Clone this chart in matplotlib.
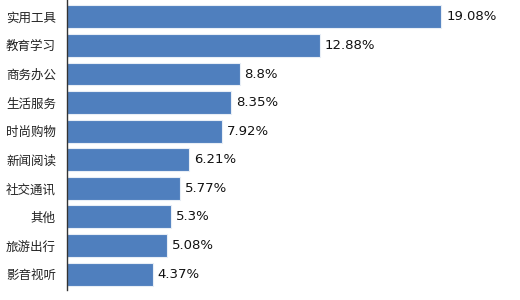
import matplotlib
matplotlib.use("Agg")
import matplotlib.pyplot as plt

plt.rcParams['font.family'] = ['Noto Sans CJK SC', 'DejaVu Sans']

categories = ["实用工具", "教育学习", "商务办公", "生活服务", "时尚购物",
              "新闻阅读", "社交通讯", "其他", "旅游出行", "影音视听"]
values = [19.08, 12.88, 8.8, 8.35, 7.92, 6.21, 5.77, 5.3, 5.08, 4.37]
labels = ["19.08%", "12.88%", "8.8%", "8.35%", "7.92%",
          "6.21%", "5.77%", "5.3%", "5.08%", "4.37%"]

fig = plt.figure(figsize=(5.2, 3.0), dpi=100)
ax = fig.add_axes([0.129, 0.033, 0.871, 0.967])

ypos = list(range(len(categories)))
ax.barh(ypos, values, height=0.8, color='#4f7fbe', edgecolor='#e8eef6', linewidth=0.8)

for y, v, t in zip(ypos, values, labels):
    ax.text(v + 0.25, y, t, va='center', ha='left', fontsize=9.5,
            family='DejaVu Sans', color='#111111')

ax.set_yticks(ypos)
ax.set_yticklabels(categories, fontsize=9, color='#222222')
ax.tick_params(axis='y', length=0, pad=8)
ax.set_xticks([])
ax.set_xlim(0, 23.1)
ax.set_ylim(9.56, -0.59)

for s in ['top', 'right', 'bottom']:
    ax.spines[s].set_visible(False)
ax.spines['left'].set_color('#333333')
ax.spines['left'].set_linewidth(1)

fig.savefig("out.png", dpi=100)
